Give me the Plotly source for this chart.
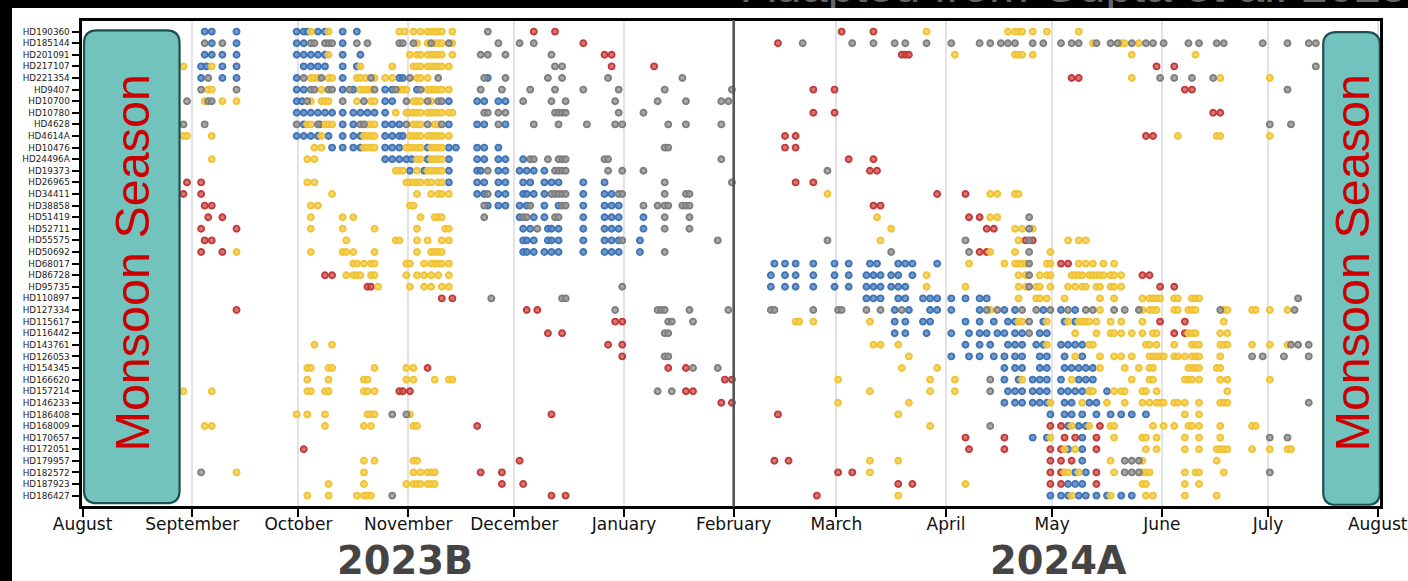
import plotly.graph_objects as go

STARS = ["HD190360","HD185144","HD201091","HD217107","HD221354","HD9407","HD10700","HD10780","HD4628","HD4614A",
"HD10476","HD24496A","HD19373","HD26965","HD34411","HD38858","HD51419","HD52711","HD55575","HD50692",
"HD68017","HD86728","HD95735","HD110897","HD127334","HD115617","HD116442","HD143761","HD126053","HD154345",
"HD166620","HD157214","HD146233","HD186408","HD168009","HD170657","HD172051","HD179957","HD182572","HD187923","HD186427"]

MONTHS = ["August","September","October","November","December","January","February","March","April","May","June","July","August"]
MONTH_DAYS = [0,31,61,92,122,153,184,213,244,274,305,335,366]

# observation days counted from 1 August 2023, one list per star
BLUE = [
[34.5,36.5,43.5,60.5,62.5,63.5,66.5,68.5,73.5,77.5],
[36.5,43.5,60.5,62.5,73.5],
[34.5,36.5,39.5,43.5,60.5,62.5,64.5,66.5,68.5,73.5,78.5],
[33.5,35,39.5,43.5,62.5,64.5,66.5,68.5,73.5,77.5],
[33.5,39.5,43.5,60.5,73.5,89.5,90.5,114.5],
[60.5,62.5,73.5,76.5,85.5,87.5,94.5],
[60.5,62,85.5,87.5,103.5,111.5,113.5,117.5,119.5],
[60.5,62.5,64.5,66.5,68.5,70.5,73.5,76.5,78.5,80.5,82.5,85.5],
[62.5,67,73.5,76.5,85.5,87.5,89.5,103.5,111.5,113.5,119.5],
[60.5,62.5,64.5,66.5,69.5,73.5,76.5,78.5,85.5,87.5,89.5,90.5],
[70.5,73.5,76.5,78.5,85.5,87.5,89.5,97.5,103.5,105.5,111.5,113.5,117.5],
[85.5,87.5,89.5,91.5,93,97.5,103.5,111.5,113.5,117.5,119.5,124.5],
[92.5,96.5,103.5,111.5,112.5,117.5,119.5,123.5,125.5,127.5,130.5],
[103.5,111.5,113.5,117.5,119.5,124.5,126.5,130.5,132.5,134.5,141.5,147.5],
[111.5,113.5,117.5,119.5,124.5,125.5,127.5,130.5,141.5,147.5,149.5],
[114.5,117.5,119.5,123.5,125.5,130.5,134.5,141.5,147.5,149.5,151.5],
[123.5,127.5,130.5,141.5,147.5,149.5,151.5,158.5],
[124.5,126.5,131.5,132.5,134.5,141.5,147.5,149.5,151.5,158.5],
[124.5,125.5,127.5,131.5,132.5,134.5,141.5,147.5,149.5,151.5,157.5],
[124.5,125.5,127.5,130.5,132.5,134.5,141.5,147.5,149.5,151.5,157.5],
[195.5,198.5,201.5,206.5,212.5,216.5,222.5,224.5,230.5,232.5,234.5,241.5],
[194.5,198.5,201.5,206.5,212.5,216.5,221.5,223.5,225.5,228.5,230.5,234.5],
[194.5,198.5,201.5,206.5,212.5,216.5,221.5,223.5,225.5,228.5,230.5,232.5],
[221.5,223.5,225.5,230.5,232.5,237.5,239.5,241.5,245.5,249.5,253.5,255.5],
[229.5,233.5,239.5,241.5,245.5,253.5,260.5,263.5,271.5,276.5,280.5],
[229.5,232.5,237.5,239.5,249.5,253.5,257.5,261.5,263.5,271.5,277.5,280.5],
[229.5,232.5,238.5,245.5,250.5,253.5,255.5,258.5,260.5,263.5,265.5,270.5,272.5],
[249.5,253.5,256.5,261.5,263.5,265.5,269.5,271.5,276.5,278.5,280.5,282.5],
[245.5,250.5,253.5,257.5,260.5,263.5,265.5,270.5,272.5,277.5,282.5],
[260.5,263.5,265.5,270.5,272.5,277.5,279.5,281.5,283.5,285.5],
[260.5,264.5,268.5,270.5,272.5,276.5,281.5,283.5,285.5],
[261.5,263.5,265.5,268.5,270.5,272.5,276.5,278.5,280.5,282.5,284.5,289.5],
[260.5,263.5,265.5,268.5,270.5,272.5,277.5,279.5,284.5,286.5],
[273.5,277.5,279.5,282.5,286.5,290.5,293.5,296.5,300.5],
[278.5,281.5,283.5],
[268.5,272.5,282.5],
[278.5,282.5],
[282.5],
[280.5,283.5],
[278.5,280.5,282.5],
[273.5,276.5,278.5,281.5,283.5,286.5,289.5,293.5,296.5],
]

YELLOW = [
[64.5,69.5,89.5,91,93.5,95.5,97.5,98.5,99.5,100.5,101.5,104.5,238.5,261.5,263.5,264.5,265.5,268.5,272.5,281.5],
[94.5,97.5,99.5,100.5,101.5,104.5,285.5,293.5,294.5,298.5],
[69.5,92.5,94.5,95.5,97.5,98.5,99.5,100.5,101.5,104.5,246.5,263.5,264.5,265.5,268.5,296.5,314.5],
[28.5,36.5,78.5,87.5,93.5,94.5,95.5,97.5,98.5,99.5,100.5,101.5,103.5],
[64.5,65.5,66.5,69.5,70.5,77.5,78.5,80,82.5,85.5,87.5,94.5,95.5,97.5,296.5,321.5,335.5],
[35.5,36.5,67.5,78.5,79.5,80.5,81.5,89.5,90.5,91.5,97.5,98.5,99.5,100.5,101.5,103.5],
[34.5,39.5,43.5,64.5,67.5,68.5,69.5,77.5,81.5,82.5,93.5,94.5,95.5,98.5],
[88.5,91.5,92.5,93.5,94.5,95.5,97.5,98.5,99.5,100.5,101.5,103.5,104.5],
[63.5,64.5,68.5,69.5,70.5,80.5,81.5,82.5,93.5,94.5,95.5,99.5,100.5],
[28.5,29.5,36.5,67.5,79.5,80.5,81.5,82.5,92.5,93.5,94.5,95.5,97.5,98.5,99.5,100.5,101.5,103.5,309.5,320.5,321.5,335.5],
[65.5,67.5,79.5,80.5,81.5,82.5,91.5,92.5,93.5,94.5,95.5,98.5,99.5,100.5,101.5],
[36.5,63.5,65.5,94.5,95.5,98.5,99.5,100.5,101.5],
[88.5,89.5,90.5,94.5,97.5,98.5,99.5,100.5,101.5],
[63.5,65.5,91.5,92.5,93.5,94.5,95.5,97.5,98.5,100.5,101.5],
[70.5,94.5,98.5,100.5,101.5,103.5,210.5,256.5,258.5,263.5,264.5],
[64.5,66.5,92.5,93.5],
[64.5,73.5,76.5,95.5,99.5,100.5,101.5,224.5,256.5,258.5],
[64.5,73.5,82.5,94.5,102.5,103.5,228.5,263.5,265.5,268.5],
[74.5,88.5,89.5,94.5,97.5,101.5,103.5,225.5,264.5,278.5,281.5,283.5],
[43.5,64.5,73.5,74.5,76.5,82.5,94.5,98.5,99.5,100.5,101.5,256.5,263.5,273.5],
[76.5,77.5,79.5,81.5,82.5,91.5,92.5,96.5,98.5,99.5,100.5,101.5,103.5,250.5,260.5,263.5,264.5,265.5,266.5,272.5,273.5,281.5,283.5,285.5,288.5,291.5],
[74.5,76.5,77.5,78.5,81.5,82.5,91.5,94.5,96.5,98.5,100.5,103.5,238.5,264.5,266.5,270.5,272.5,273.5,279.5,280.5,281.5,282.5,284.5,285.5,286.5,287.5,288.5,290.5,291.5,293.5],
[83.5,92.5,96.5,98.5,101.5,103.5,238.5,249.5,264.5,266.5,269.5,270.5,273.5,278.5,280.5,282.5,283.5,286.5,287.5,290.5,291.5,293.5],
[264.5,269.5,270.5,272.5,277.5,287.5,291.5,299.5,301.5,302.5,303.5,304.5,308.5,309.5,313.5,314.5,315.5],
[256.5,287.5,299.5,301.5,302.5,303.5,308.5,309.5,312.5,313.5,314.5,322.5,323.5,330.5,331.5,335.5,340.5],
[201.5,202.5,206.5,222.5,264.5,265.5,272.5,278.5,281.5,282.5,283.5,284.5,286.5,290.5,293.5,299.5,322.5],
[280.5,286.5,290.5,291.5,293.5,296.5,299.5,302.5,303.5,312.5,313.5,314.5,321.5,323.5],
[65.5,70.5,223.5,225.5,230.5,272.5,284.5,285.5,300.5,301.5,303.5,308.5,313.5,314.5,315.5,321.5,322.5,323.5,330.5,335.5,340.5],
[233.5,280.5,287.5,291.5,293.5,296.5,301.5,302.5,303.5,304.5,305.5,308.5,309.5,311.5,313.5,314.5,315.5,321.5],
[63.5,64.5,69.5,70.5,82.5,91.5,93.5,231.5,241.5,287.5,294.5,298.5,301.5,302.5,312.5,313.5,314.5,315.5,320.5,321.5],
[63.5,69.5,79.5,80.5,91.5,93.5,99.5,103.5,104.5,213.5,239.5,246.5,265.5,279.5,296.5,301.5,302.5,311.5,312.5,313.5,315.5,321.5,323.5,335.5],
[28.5,36.5,63.5,64.5,68.5,69.5,79.5,80.5,82.5,222.5,239.5,246.5,284.5,285.5,291.5,293.5,294.5,299.5,300.5,303.5,323.5],
[213.5,233.5,273.5,282.5,289.5,294.5,299.5,301.5,303.5,304.5,305.5,308.5,309.5,311.5,315.5,321.5,322.5,323.5],
[60.5,63.5,68.5,80.5,81.5,82.5,92.5,230.5,311.5,315.5],
[34.5,36.5,68.5,79.5,81.5,93.5,94.5,239.5,279.5,284.5,290.5,291.5,302.5,305.5,308.5,312.5,313.5,315.5,321.5,330.5,331.5],
[273.5,291.5,299.5,300.5,303.5,311.5,315.5,321.5],
[277.5,280.5,300.5,303.5,311.5,315.5,320.5,321.5,322.5,323.5,330.5,335.5,340.5,341.5],
[79.5,82.5,93.5,94.5,222.5,230.5,290.5,299.5,320.5],
[43.5,79.5,93.5,95.5,97.5,98.5,99.5,222.5,277.5,278.5,281.5,291.5,299.5,300.5,301.5,311.5,314.5,315.5,322.5],
[69.5,79.5,91.5,93.5,94.5,95.5,97.5,98.5,99.5,249.5,299.5,300.5,311.5,315.5],
[63.5,69.5,77.5,79.5,80.5,81.5,230.5,279.5,290.5,300.5,302.5,311.5,320.5],
]

GRAY = [
[114.5],
[34.5,39.5,64.5,65.5,68.5,69.5,70.5,77.5,80.5,89.5,90.5,93.5,98.5,103.5,117.5,123.5,127.5,203.5,217.5,223.5,229.5,232.5,238.5,245.5,253.5,256.5,259.5,261.5,263.5,268.5,271.5,276.5,279.5,281.5,286.5,290.5,292.5,296.5,300.5,302.5,305.5,312.5,315.5,320.5,322.5,333.5,340.5,346.5,348.5],
[112.5,114.5,119.5,132.5],
[133.5,135.5,348.5],
[35.5,62.5,67.5,81.5,92.5,100.5,113.5,119.5,131.5,135.5,148.5,169.5,304.5,308.5,313.5,319.5],
[33.5,43.5,64.5,65.5,69.5,70.5,75.5,82.5,88.5,95.5,112.5,118.5,126.5,133.5,141.5,151.5,164.5,183.5,340.5],
[29.5,35.5,36.5,63.5,73.5,79.5,91.5,97.5,100.5,101.5,124.5,132.5,136.5,150.5,162.5,170.5,180.5,182.5],
[113.5,114.5,117.5,119.5,133.5,134.5,135.5,136.5,151.5,158.5],
[28.5,34.5,60.5,66.5,78.5,79.5,91.5,97.5,101.5,117.5,127.5,134.5,142.5,150.5,152.5,165.5,170.5,180.5,335.5,341.5],
[],
[164.5,165.5],
[126.5,127.5,131.5,134.5,135.5,136.5,147.5,148.5,180.5],
[114.5,133.5,134.5,135.5,136.5,148.5,152.5,158.5,210.5],
[164.5,183.5],
[114.5,132.5,133.5,134.5,135.5,136.5,151.5,152.5,164.5,170.5,171.5],
[113.5,126.5,135.5,136.5,158.5,162.5,164.5,165.5,169.5,170.5,171.5],
[113.5,124.5,125.5,133.5,134.5,164.5,171.5,267.5],
[128.5,164.5,171.5,267.5],
[152.5,179.5,210.5,249.5,267.5],
[164.5,228.5,250.5,267.5],
[267.5],
[267.5],
[152.5,267.5],
[115.5,135.5,136.5,343.5],
[150.5,162.5,163.5,164.5,171.5,182.5,194.5,195.5,206.5,213.5,214.5,221.5,225.5,231.5,255.5,258.5,265.5,269.5,273.5,278.5,283.5,285.5,291.5,294.5,298.5,321.5,342.5],
[165.5,166.5,172.5,267.5],
[164.5,165.5,267.5],
[341.5,343.5,346.5],
[164.5,165.5,330.5,333.5,339.5,346.5],
[172.5,179.5],
[256.5],
[162.5,166.5,256.5],
[346.5],
[87.5,91.5],
[256.5],
[335.5,340.5],
[],
[294.5,296.5,298.5],
[33.5,294.5,296.5,298.5,335.5],
[],
[87.5],
]

RED = [
[127.5,133.5,214.5,223.5],
[141.5,196.5],
[147.5,149.5,231.5,232.5,233.5],
[149.5,161.5,303.5,308.5],
[279.5,281.5],
[206.5,212.5,311.5,313.5],
[],
[206.5,212.5,319.5,321.5],
[],
[198.5,201.5,300.5,302.5],
[198.5,201.5],
[216.5,223.5],
[222.5,224.5],
[29.5,33.5,201.5,206.5],
[28.5,33.5,241.5,249.5],
[34.5,36.5,223.5,225.5],
[35.5,39.5,250.5,253.5],
[33.5,43.5,255.5,257.5],
[34.5,36.5,266.5,268.5],
[33.5,39.5,253.5,255.5],
[276.5,278.5],
[68.5,70.5,299.5,301.5],
[80.5,81.5,304.5,308.5],
[101.5,104.5],
[43.5,125.5,128.5],
[150.5,152.5,304.5,311.5],
[131.5,135.5,308.5,311.5],
[148.5,152.5],
[152.5],
[97.5,165.5,170.5],
[181.5,183.5],
[89.5,90.5,92.5,170.5,172.5],
[180.5,183.5],
[132.5,196.5],
[111.5,273.5,276.5,287.5],
[249.5,260.5,277.5,280.5,286.5],
[62.5,250.5,260.5,273.5,276.5,286.5],
[123.5,195.5,199.5,273.5,276.5,279.5],
[112.5,118.5,213.5,217.5,273.5,276.5,286.5],
[118.5,124.5,230.5,234.5,273.5,276.5,286.5],
[132.5,136.5,207.5],
]

W, H = 1408, 581
px = lambda v: v / W
py = lambda v: 1 - v / H

fig = go.Figure()

SERIES = [(BLUE, "rgba(88,132,192,0.82)", "#3f74b5"),
          (RED, "rgba(206,90,84,0.82)", "#c23a3a"),
          (YELLOW, "rgba(245,208,85,0.86)", "#f0c234"),
          (GRAY, "rgba(150,150,150,0.82)", "#7e7e7e")]
for rows, fill, edge in SERIES:
    xs, ys = [], []
    for i, days in enumerate(rows):
        xs += days
        ys += [i] * len(days)
    fig.add_trace(go.Scatter(x=xs, y=ys, mode="markers", showlegend=False,
                             marker=dict(size=6.0, color=fill, line=dict(color=edge, width=1.9))))

# header text that the top of the page cuts off
fig.add_trace(go.Scatter(x=[743], y=[-6], mode="text", text=["Adapted from Gupta et al. 2025"],
                         textposition="top right", xaxis="x2", yaxis="y2", showlegend=False,
                         textfont=dict(family="Liberation Sans", size=47.6, color="#666666")))

def box(x0, x1, y0, y1, rx=3.7, ry=1.1):
    return (f"M {x0+rx},{y0} L {x1-rx},{y0} Q {x1},{y0} {x1},{y0+ry} L {x1},{y1-ry} Q {x1},{y1} {x1-rx},{y1} "
            f"L {x0+rx},{y1} Q {x0},{y1} {x0},{y1-ry} L {x0},{y0+ry} Q {x0},{y0} {x0+rx},{y0} Z")

shapes = [
    dict(type="rect", xref="paper", yref="paper", x0=0, x1=px(12), y0=0, y1=1, fillcolor="black", line_width=0, layer="below"),
    dict(type="rect", xref="paper", yref="paper", x0=0, x1=1, y0=py(8), y1=1, fillcolor="black", line_width=0, layer="below"),
    dict(type="line", xref="x", yref="paper", x0=184, x1=184, y0=py(507), y1=py(20), line=dict(color="#555555", width=2.6)),
    dict(type="path", xref="x", yref="y", path=box(0.4, 27.4, -0.1, 40.65), fillcolor="#72c2be",
         line=dict(color="#1c4f50", width=2.2), layer="above"),
    dict(type="path", xref="x", yref="y", path=box(350.6, 366.6, 0.05, 40.8), fillcolor="#72c2be",
         line=dict(color="#1c4f50", width=2.2), layer="above"),
]

def label(x, y, text, **font):
    return dict(xref="paper", yref="paper", x=px(x), y=py(y), text=text, showarrow=False,
                xanchor="center", yanchor="middle", **font)

annotations = [
    label(131.5, 263, "Monsoon Season", textangle=-90, font=dict(family="Liberation Sans", size=48.5, color="#cc0000")),
    label(1351.5, 263, "Monsoon Season", textangle=-90, font=dict(family="Liberation Sans", size=48.5, color="#cc0000")),
    label(405, 560, "<b>2023B</b>", font=dict(family="DejaVu Sans", size=38.4, color="#444444")),
    label(1058, 560, "<b>2024A</b>", font=dict(family="DejaVu Sans", size=38.4, color="#444444")),
]

fig.update_layout(
    width=W, height=H, margin=dict(l=0, r=0, t=0, b=0, pad=0), paper_bgcolor="white", plot_bgcolor="rgba(0,0,0,0)",
    shapes=shapes, annotations=annotations, showlegend=False,
    xaxis=dict(domain=[px(82.3), px(1380.2)], range=[-0.085, 366.7], tickmode="array", tickvals=MONTH_DAYS, ticktext=MONTHS,
               tickfont=dict(family="DejaVu Sans", size=17, color="#111111"), ticks="outside", ticklen=8, tickwidth=2,
               ticklabelstandoff=-7,
               tickcolor="black", showgrid=True, gridcolor="#e3e3e3", gridwidth=1.5, zeroline=False, automargin=False,
               showline=True, mirror=True, linecolor="black", linewidth=2.6, anchor="y"),
    yaxis=dict(domain=[py(505.7), py(21.3)], range=[40.87, -0.888], tickmode="array", tickvals=list(range(len(STARS))), ticktext=STARS,
               tickfont=dict(family="DejaVu Sans", size=8.8, color="#222222"), ticks="outside", ticklen=8, tickwidth=2,
               tickcolor="black", showgrid=False, zeroline=False, showline=True, mirror=True, linecolor="black",
               linewidth=2.6, anchor="x", automargin=False),
    xaxis2=dict(domain=[0, 1], range=[0, W], visible=False, anchor="y2", automargin=False),
    yaxis2=dict(domain=[py(8), 1], range=[0, 8], visible=False, anchor="x2", automargin=False),
)

fig.write_html("out.html", config=dict(displayModeBar=False),
               post_script="document.body.style.margin='0';document.body.style.overflow='hidden';")
